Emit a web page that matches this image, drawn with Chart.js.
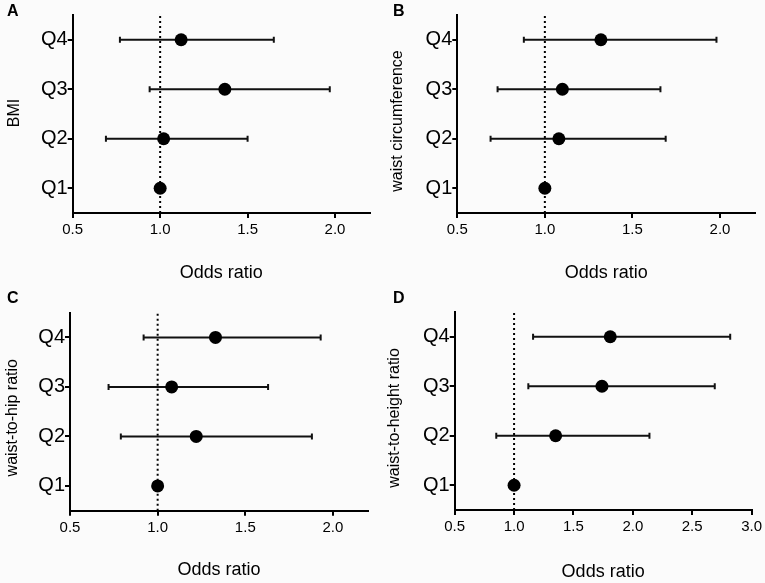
<!DOCTYPE html>
<html>
<head>
<meta charset="utf-8">
<script src="https://cdn.jsdelivr.net/npm/chart.js@4.4.1/dist/chart.umd.min.js"></script>
<style>
  html, body { margin: 0; padding: 0; background: #fbfbfb; }
  #wrap { position: relative; width: 765px; height: 583px; overflow: hidden; }
  canvas { position: absolute; }
  .tag { position: absolute; font: bold 16px "Liberation Sans", Arial, sans-serif; line-height: 16px; color: #000; }
</style>
</head>
<body>
<div id="wrap">
  <canvas id="cA" width="382" height="290" style="left:0;top:0"></canvas>
  <canvas id="cB" width="382" height="290" style="left:383px;top:0"></canvas>
  <canvas id="cC" width="382" height="293" style="left:0;top:290px"></canvas>
  <canvas id="cD" width="382" height="293" style="left:383px;top:290px"></canvas>
  <div class="tag" style="left:7px;top:3px">A</div>
  <div class="tag" style="left:393px;top:3px">B</div>
  <div class="tag" style="left:7px;top:290px">C</div>
  <div class="tag" style="left:393px;top:290px">D</div>
</div>
<script>
// quartile categories (Q1 is the reference group)
const quartiles = ['Q1', 'Q2', 'Q3', 'Q4'];

// A - BMI
const bmiOR   = [1.00, 1.02, 1.37, 1.12];
const bmiLow  = [null, 0.69, 0.94, 0.77];
const bmiHigh = [null, 1.50, 1.97, 1.65];

// B - waist circumference
const waistOR   = [1.00, 1.08, 1.10, 1.32];
const waistLow  = [null, 0.69, 0.73, 0.88];
const waistHigh = [null, 1.69, 1.66, 1.98];

// C - waist-to-hip ratio
const whrOR   = [1.00, 1.22, 1.08, 1.33];
const whrLow  = [null, 0.79, 0.72, 0.92];
const whrHigh = [null, 1.88, 1.63, 1.93];

// D - waist-to-height ratio
const whtrOR   = [1.00, 1.35, 1.74, 1.81];
const whtrLow  = [null, 0.85, 1.12, 1.16];
const whtrHigh = [null, 2.14, 2.69, 2.82];

// x axis ticks
const xTicksShort = [0.5, 1.0, 1.5, 2.0];
const xTicksLong  = [0.5, 1.0, 1.5, 2.0, 2.5, 3.0];

const FONT = '"Liberation Sans", Arial, Helvetica, sans-serif';

// y axis title, drawn a little below the axis centre like the original
const yTitlePlugin = {
  id: 'yTitle',
  afterDraw(chart, args, opts) {
    const { ctx, chartArea } = chart;
    ctx.save();
    ctx.translate(opts.x, (chartArea.top + chartArea.bottom) / 2 + opts.shift);
    ctx.rotate(-Math.PI / 2);
    ctx.fillStyle = '#000';
    ctx.font = '16px ' + FONT;
    ctx.textAlign = 'center';
    ctx.textBaseline = 'middle';
    ctx.fillText(opts.text, 0, 0);
    ctx.restore();
  }
};

function makePanel(id, yTitle, or, low, high, xMax, xTicks, lay) {
  const ctx = document.getElementById(id).getContext('2d');

  const datasets = [];
  // point estimates
  datasets.push({
    data: or.map((v, i) => ({ x: v, y: i + 1 })),
    backgroundColor: '#000',
    borderColor: '#000',
    pointRadius: 6.5,
    pointBorderWidth: 0,
    showLine: false,
    order: 0
  });
  // confidence intervals
  low.forEach((lo, i) => {
    if (lo === null) return;
    datasets.push({
      data: [{ x: lo, y: i + 1 }, { x: high[i], y: i + 1 }],
      showLine: true,
      borderColor: '#111',
      borderWidth: 2,
      pointStyle: 'line',
      pointRotation: 90,
      pointRadius: 3,
      pointBorderWidth: 2,
      pointBorderColor: '#111',
      order: 1
    });
  });
  // reference line at OR = 1
  datasets.push({
    data: [{ x: 1, y: 0.5 }, { x: 1, y: 4.5 }],
    showLine: true,
    borderColor: '#000',
    borderWidth: 2,
    borderDash: [2, 3],
    pointRadius: 0,
    order: 2
  });

  return new Chart(ctx, {
    type: 'scatter',
    data: { datasets: datasets },
    plugins: [yTitlePlugin],
    options: {
      responsive: false,
      animation: false,
      events: [],
      layout: { padding: { top: lay.padTop, right: lay.padRight, left: 0, bottom: 0 } },
      plugins: {
        legend: { display: false },
        tooltip: { enabled: false },
        yTitle: { text: yTitle, x: lay.yTitleX, shift: lay.yTitleShift }
      },
      scales: {
        x: {
          type: 'linear',
          min: 0.5,
          max: xMax,
          afterBuildTicks: (s) => { s.ticks = xTicks.map(v => ({ value: v })); },
          afterFit: (s) => { s.height = lay.xH; },
          ticks: {
            color: '#000',
            font: { family: FONT, size: 15 },
            padding: 3,
            maxRotation: 0,
            callback: (v) => Number(v).toFixed(1)
          },
          grid: { display: true, drawOnChartArea: false, drawTicks: true, tickLength: 5, color: '#000', lineWidth: 2 },
          border: { display: true, color: '#000', width: 2 },
          title: {
            display: true,
            text: 'Odds ratio',
            color: '#000',
            font: { family: FONT, size: 18 },
            padding: { top: 0, bottom: lay.xTitlePad }
          }
        },
        y: {
          type: 'linear',
          min: 0.5,
          max: 4.5,
          afterBuildTicks: (s) => { s.ticks = quartiles.map((q, i) => ({ value: i + 1 })); },
          afterFit: (s) => { s.width = lay.yW; },
          ticks: {
            color: '#000',
            font: { family: FONT, size: 20 },
            padding: 0,
            callback: (v) => quartiles[v - 1]
          },
          grid: { display: true, drawOnChartArea: false, drawTicks: true, tickLength: 5, color: '#000', lineWidth: 2 },
          border: { display: true, color: '#000', width: 2 },
          title: { display: false }
        }
      }
    }
  });
}

makePanel('cA', 'BMI', bmiOR, bmiLow, bmiHigh, 2.2, xTicksShort,
  { padTop: 15, padRight: 12, yW: 72.7, xH: 77, xTitlePad: 6, yTitleX: 15, yTitleShift: -1 });
makePanel('cB', 'waist circumference', waistOR, waistLow, waistHigh, 2.2, xTicksShort,
  { padTop: 15, padRight: 10, yW: 74.3, xH: 77, xTitlePad: 6, yTitleX: 15, yTitleShift: 7 });
makePanel('cC', 'waist-to-hip ratio', whrOR, whrLow, whrHigh, 2.2, xTicksShort,
  { padTop: 22.7, padRight: 14, yW: 70, xH: 72.3, xTitlePad: 2.2, yTitleX: 13, yTitleShift: 6 });
makePanel('cD', 'waist-to-height ratio', whtrOR, whtrLow, whtrHigh, 3.0, xTicksLong,
  { padTop: 22, padRight: 13, yW: 71.7, xH: 73, xTitlePad: 0.5, yTitleX: 12, yTitleShift: 7 });
</script>
</body>
</html>
